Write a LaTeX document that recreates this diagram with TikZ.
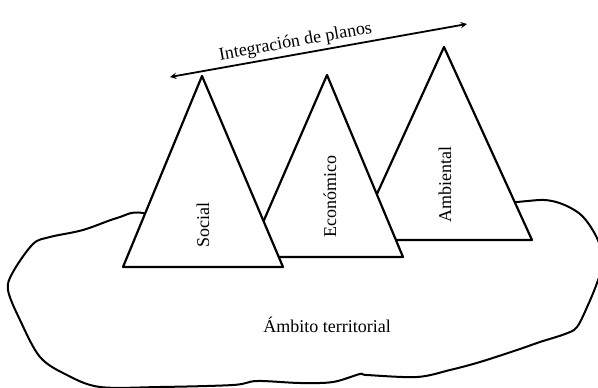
\documentclass[tikz,border=0pt]{standalone}
\usepackage{fontspec}
\setmainfont{Liberation Serif}
\begin{document}
\begin{tikzpicture}[x=1pt, y=-1pt, line width=2.2pt, line join=round, line cap=round, font=\fontsize{18}{20}\selectfont, >=stealth]
	\useasboundingbox (0,0) rectangle (598,388);
	
	% Contorno del ámbito territorial
	\draw[line width=2pt] plot[smooth cycle, tension=0.55] coordinates {
		(143,213) (200,232) (263,242) (330,236) (400,215) (517,202) (552,201) (580,214) (597,238) (603,262)
		(597,283) (588,305) (577,327) (565,334) (540,342) (517,350) (480,362) (450,370)
		(417,377) (367,375) (360,374) (333,382) (300,383) (257,381) (233,385) (160,387)
		(100,387) (67,375) (40,357) (20,320) (8,290) (13,272) (33,244) (50,237)
		(83,230) (117,218)};
	
	% Triángulos (de atrás hacia adelante)
	\draw[fill=white] (356,240) -- (444,47) -- (532,240) -- cycle;
	\draw[fill=white] (248,257) -- (327,75) -- (403,257) -- cycle;
	\draw[fill=white] (123,267) -- (202,76) -- (283,267) -- cycle;
	
	% Etiquetas
	\node[rotate=90] (social) at (203,225) {Social};
	\node[rotate=90] (economico) at (330,197) {Económico};
	\node[rotate=90] (ambiental) at (445,185) {Ambiental};
	\node (ambito) at (327,325) {Ámbito territorial};
	
	% Flecha de integración
	\coordinate (izq) at (170,77);
	\coordinate (der) at (467,24);
	\draw[<->, line width=1.8pt] (izq) -- node[above, sloped, pos=0.43, inner sep=3pt] {Integración de planos} (der);
\end{tikzpicture}
\end{document}
